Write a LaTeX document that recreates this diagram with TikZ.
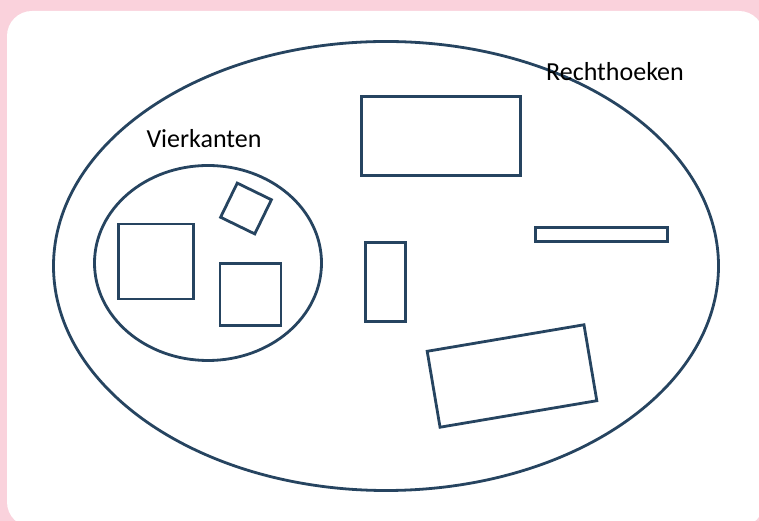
\documentclass[tikz,border=0pt]{standalone}
\usepackage{fontspec}
\setmainfont{Carlito}
\usetikzlibrary{shapes.geometric}
\definecolor{panelpink}{RGB}{250,210,220}
\definecolor{setnavy}{RGB}{38,68,96}

\begin{document}
\begin{tikzpicture}[x=1pt, y=1pt,
	setline/.style={draw=setnavy, line width=2.8pt, inner sep=0pt},
	shapebox/.style={setline, rectangle},
	setblob/.style={setline, ellipse},
	setlabel/.style={font=\fontsize{26}{29}\selectfont, text=black}]

	\useasboundingbox (0,0) rectangle (759,521);
	\fill[panelpink] (0,0) rectangle (759,521);
	\fill[white, rounded corners=25pt] (7,-6) rectangle (764,510);

	% Rechthoeken (outer set)
	\node[setblob, minimum width=665, minimum height=449] (rect set) at (386,255) {};
	\node[setlabel] (rect label) at (615,449) {Rechthoeken};

	% Vierkanten (inner set)
	\node[setblob, minimum width=227, minimum height=195] (sq set) at (208,258) {};
	\node[setlabel] (sq label) at (204,382) {Vierkanten};

	% squares
	\node[shapebox, minimum width=75, minimum height=75] (sq a) at (156,259.5) {};
	\node[shapebox, minimum width=61, minimum height=62] (sq b) at (250.5,226.2) {};
	\node[shapebox, minimum width=38, minimum height=38, rotate=-26] (sq c) at (246,312.5) {};

	% other rectangles
	\node[shapebox, minimum width=159, minimum height=79] (rect a) at (441,385) {};
	\node[shapebox, minimum width=40, minimum height=79] (rect b) at (385.5,239) {};
	\node[shapebox, minimum width=132, minimum height=14] (rect c) at (601.5,286.5) {};
	\node[shapebox, minimum width=159, minimum height=77, rotate=9.6] (rect d) at (512,145) {};

\end{tikzpicture}
\end{document}
